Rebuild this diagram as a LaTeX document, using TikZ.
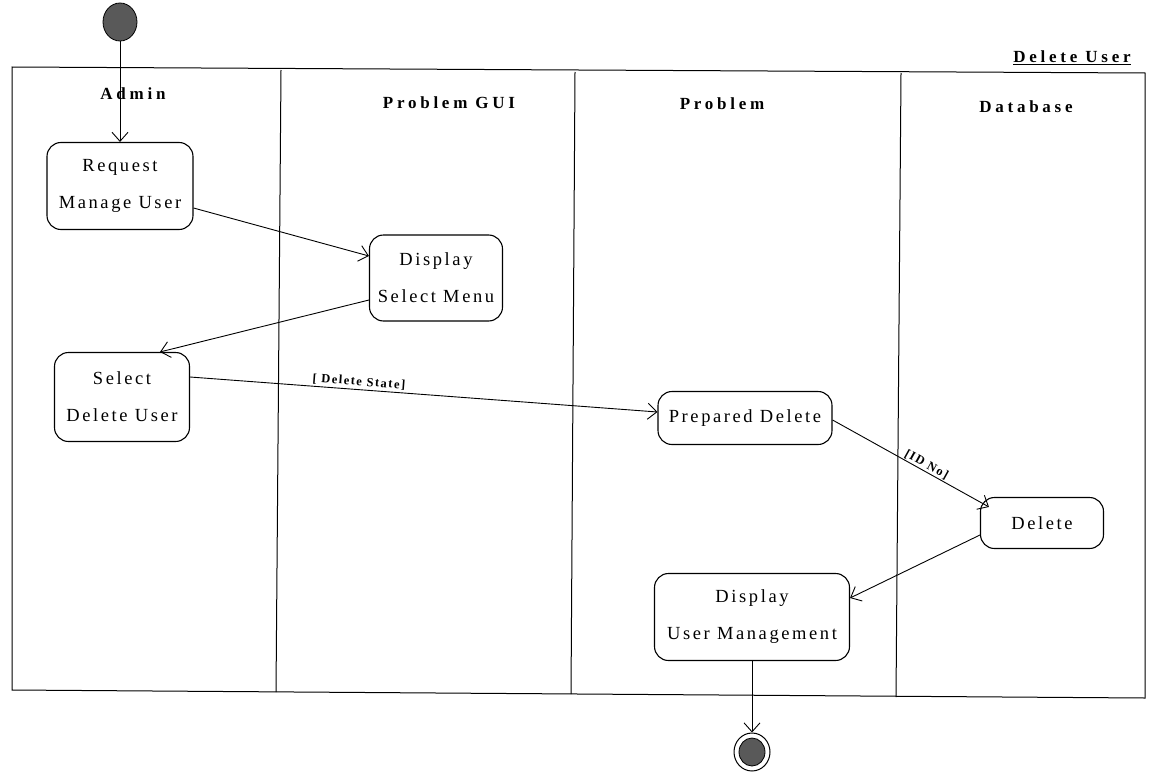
\documentclass[tikz,border=0pt]{standalone}
\usepackage{fontspec}
\setmainfont{Liberation Serif}
\newfontfamily\spaced[LetterSpace=14]{Liberation Serif}
\newfontfamily\spacedbold[LetterSpace=22]{Liberation Serif}
\newfontfamily\guardfont[LetterSpace=12]{Liberation Serif}
\usetikzlibrary{arrows.meta,shapes.geometric}
\begin{document}
\begin{tikzpicture}[x=1pt,y=-1pt,
  activity/.style={draw,line width=1.1pt,rounded corners=14pt,align=center,
    font=\spaced\fontsize{18.5}{37}\selectfont,inner sep=0pt},
  lanetitle/.style={font=\spacedbold\bfseries\fontsize{17}{20}\selectfont},
  flow/.style={line width=0.9pt,-{Straight Barb[length=9pt,width=16pt,line width=0.9pt]}},
  guard/.style={font=\guardfont\bfseries\fontsize{12.5}{14}\selectfont,inner sep=2pt}]
\useasboundingbox (0,0) rectangle (1158,773);

% swimlane frame and dividers
\draw[line width=1pt] (12,67) -- (1145,73) -- (1145,698) -- (12,690) -- cycle;
\draw[line width=1pt] (281,70) -- (276,692);
\draw[line width=1pt] (575,72) -- (571,694);
\draw[line width=1pt] (901,73) -- (896,697);

% title
\node[font=\spacedbold\bfseries\fontsize{17}{20}\selectfont,inner sep=1pt] (title) at (1072,58) {\underline{Delete User}};

% lane titles
\node[lanetitle] (laneA) at (133,94) {Admin};
\node[lanetitle] (laneB) at (449,103) {Problem GUI};
\node[lanetitle] (laneC) at (722,104) {Problem};
\node[lanetitle] (laneD) at (1026,107) {Database};

% initial and final states
\node[draw,line width=0.8pt,fill=black!65,ellipse,minimum width=34pt,minimum height=38pt,inner sep=0pt] (start) at (120,22) {};
\node[draw,line width=1pt,ellipse,minimum width=36pt,minimum height=38pt,inner sep=0pt] (stop) at (752,752) {};
\node[draw,line width=0.8pt,fill=black!65,ellipse,minimum width=26pt,minimum height=28pt,inner sep=0pt] (stopin) at (752,752) {};

% activities
\node[activity,minimum width=146pt,minimum height=87pt] (req) at (120,186) {Request\\Manage User};
\node[activity,minimum width=133pt,minimum height=86pt] (disp) at (436,278) {Display\\Select Menu};
\node[activity,minimum width=135pt,minimum height=89pt] (sel) at (122,397) {Select\\Delete User};
\node[activity,minimum width=174pt,minimum height=53pt] (prep) at (745,418) {Prepared Delete};
\node[activity,minimum width=123pt,minimum height=51pt] (del) at (1042,523) {Delete};
\node[activity,minimum width=195pt,minimum height=87pt] (dum) at (752,617) {Display\\User Management};

% transitions
\draw[flow] (start) -- (req.north);
\draw[flow] ([yshift=-22pt]req.east) -- ([yshift=22pt]disp.west);
\draw[flow] ([yshift=-22pt]disp.west) -- ([xshift=38pt]sel.north);
\draw[flow] ([yshift=20pt]sel.east) -- node[guard,pos=0.36,above,sloped] {[ Delete State]} ([yshift=6pt]prep.west);
\draw[flow] ([yshift=-2pt]prep.east) -- node[guard,pos=0.58,above,sloped,inner sep=1pt] {[ID No]} ([xshift=9pt,yshift=-10pt]del.north west);
\draw[flow] ([yshift=-12pt]del.west) -- ([yshift=19pt]dum.east);
\draw[flow] (dum.south) -- (stop.north);
\end{tikzpicture}
\end{document}
